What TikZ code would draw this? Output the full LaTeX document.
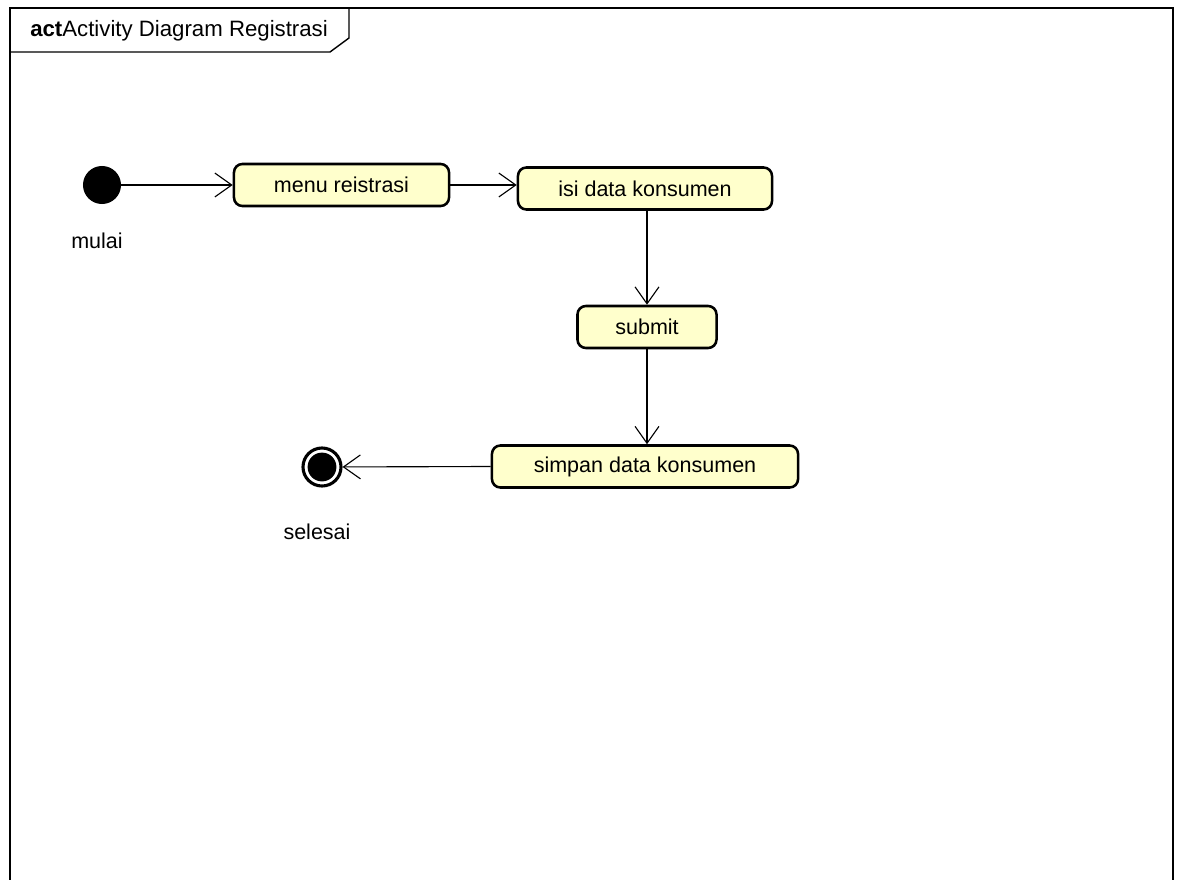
\documentclass[tikz,border=0pt]{standalone}
\usepackage{fontspec}
\setmainfont{Liberation Sans}
\usetikzlibrary{positioning,calc,arrows.meta}
\definecolor{actfill}{RGB}{255,255,204}

\begin{document}
\begin{tikzpicture}[x=0.025cm,y=-0.025cm,
    action/.style={draw, fill=actfill, rounded corners=6pt, line width=1.8pt, minimum height=1.05cm, inner sep=2pt, font=\fontsize{15.3}{18}\selectfont},
    flow/.style={-{Straight Barb[length=12pt,width=17pt]}, line width=0.8pt},
    lbl/.style={font=\fontsize{15.3}{18}\selectfont}]
    \useasboundingbox (0,0) rectangle (1183,880);
    % frame
    \draw[line width=1pt] (10,880) -- (10,8) -- (1173,8) -- (1173,880);
    \draw[line width=1pt] (10,52) -- (330,52) -- (349,38) -- (349,8);
    \node[font=\fontsize{15.8}{19}\selectfont, anchor=west, inner sep=0] (title) at (30,31) {\textbf{act}Activity Diagram Registrasi};

    \node[circle, fill=black, minimum size=0.95cm, inner sep=0] (start) at (102,185) {};
    \node[lbl] (mulai) at (97,241) {mulai};
    \node[action, minimum width=5.375cm] (menu) at (341.5,185) {menu reistrasi};
    \node[action, minimum width=6.35cm] (isi) at (645,188.5) {isi data konsumen};
    \node[action, minimum width=3.475cm] (submit) at (647,327) {submit};
    \node[action, minimum width=7.65cm] (simpan) at (645,466.5) {simpan data konsumen};
    \node[circle, draw, fill=white, line width=2.2pt, minimum size=0.95cm, inner sep=0] (final) at (322,467) {};
    \node[circle, fill=black, minimum size=0.72cm, inner sep=0] (finaldot) at (final) {};
    \node[lbl] (selesai) at (317,532) {selesai};

    \draw[flow] (start) -- (menu);
    \draw[flow] (menu.east) -- (menu.east -| isi.west);
    \draw[flow] (isi.south -| submit) -- (submit.north);
    \draw[flow] (submit.south) -- (submit.south |- simpan.north);
    \draw[flow] (simpan.west) -- (final);
\end{tikzpicture}
\end{document}
